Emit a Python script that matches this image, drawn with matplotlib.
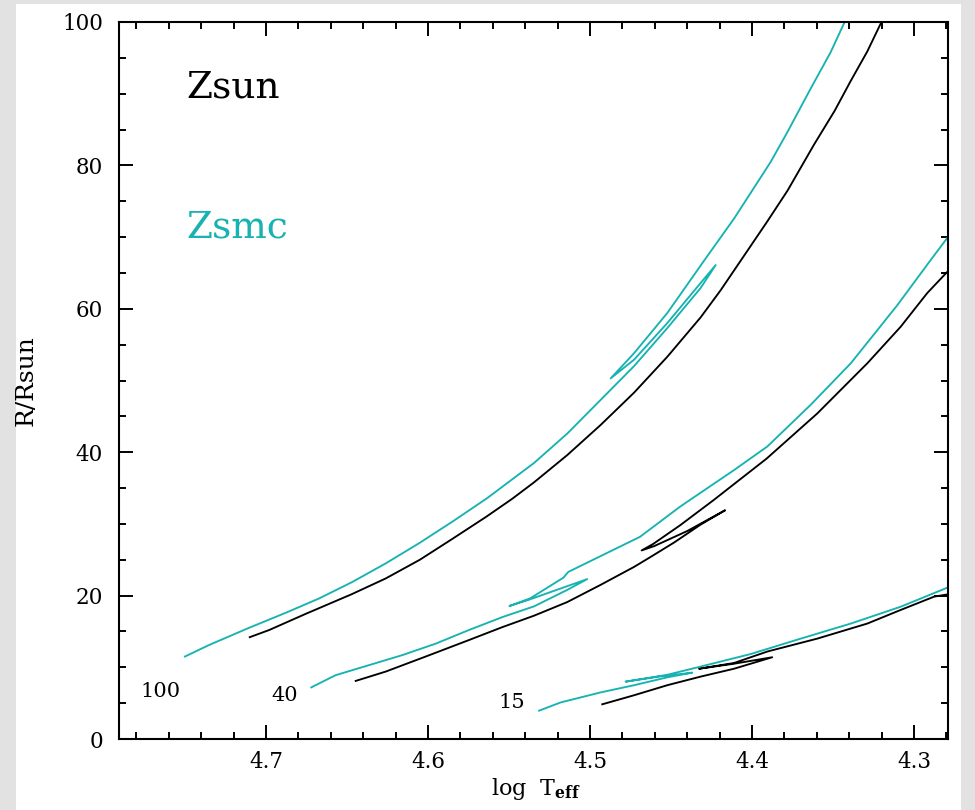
import matplotlib
matplotlib.use("Agg")
import matplotlib.pyplot as plt
from matplotlib.patches import Rectangle
from matplotlib.ticker import MultipleLocator

plt.rcParams['font.family'] = ['DejaVu Serif']
plt.rcParams['mathtext.fontset'] = 'dejavuserif'

BLACK = '#000000'
CYAN = '#17b2b2'

# ---- data: log Teff (x) and R/Rsun (y) ----
# 100 Msun, solar metallicity
t100_sun = [4.710, 4.698, 4.676, 4.647, 4.626, 4.605, 4.585, 4.564, 4.548, 4.5345,
            4.514, 4.4934, 4.4728, 4.4523, 4.4317, 4.4193, 4.407, 4.3905, 4.378,
            4.3617, 4.349, 4.339, 4.3288, 4.3205, 4.3190]
r100_sun = [14.2, 15.2, 17.4, 20.2, 22.4, 25.0, 27.9, 31.0, 33.5, 35.8,
            39.6, 43.8, 48.3, 53.3, 58.8, 62.6, 66.7, 72.2, 76.5,
            82.9, 87.6, 91.8, 95.9, 99.8, 100.6]
# 100 Msun, SMC metallicity
t100_smc = [4.750, 4.7352, 4.7105, 4.6878, 4.6672, 4.6467, 4.626, 4.6055, 4.585, 4.5634,
            4.5345, 4.514, 4.4934, 4.4728, 4.4523, 4.4317, 4.4224,
            4.4317, 4.4523, 4.4728, 4.4872,
            4.4728, 4.4523, 4.4296, 4.411, 4.3884, 4.378, 4.3638, 4.3514, 4.3428, 4.3420]
r100_smc = [11.5, 13.1, 15.5, 17.6, 19.6, 21.9, 24.5, 27.3, 30.3, 33.6,
            38.5, 42.6, 47.3, 52.0, 57.3, 62.9, 66.1,
            63.6, 58.0, 52.9, 50.3,
            53.8, 59.4, 66.7, 72.6, 80.5, 84.7, 90.7, 95.8, 100.0, 100.5]

# 40 Msun, solar metallicity
t40_sun = [4.6446, 4.6261, 4.6014, 4.5747, 4.5541, 4.5345, 4.514, 4.4934, 4.4728,
           4.4625, 4.4481, 4.4317, 4.4166,
           4.440, 4.4604, 4.4681,
           4.461, 4.4444, 4.4238, 4.391, 4.3597, 4.3288, 4.3082, 4.2918, 4.2784]
r40_sun = [8.1, 9.4, 11.5, 13.8, 15.6, 17.2, 19.1, 21.5, 24.0,
           25.4, 27.4, 29.9, 31.9,
           29.0, 26.9, 26.3,
           27.2, 29.8, 33.3, 39.1, 45.4, 52.4, 57.5, 62.2, 65.4]
# 40 Msun, SMC metallicity
t40_smc = [4.672, 4.657, 4.6364, 4.6158, 4.5952, 4.5747, 4.5541, 4.5345, 4.514, 4.5017,
           4.538, 4.5497,
           4.537, 4.5164, 4.5134, 4.4691, 4.4444, 4.4379, 4.4111, 4.3905, 4.3638,
           4.339, 4.3103, 4.2897, 4.2784]
r40_smc = [7.2, 8.9, 10.3, 11.7, 13.3, 15.2, 17.0, 18.5, 20.8, 22.3,
           19.4, 18.55,
           19.6, 22.5, 23.3, 28.2, 32.4, 33.4, 37.5, 40.8, 46.6,
           52.4, 60.5, 66.8, 70.2]

# 15 Msun, solar metallicity
t15_sun = [4.4924, 4.4728, 4.4523, 4.4317, 4.4111, 4.3875,
           4.4111, 4.4327,
           4.4111, 4.3905, 4.3597, 4.3288, 4.3082, 4.2876, 4.2784]
r15_sun = [4.84, 6.1, 7.5, 8.7, 9.8, 11.4,
           10.5, 9.8,
           10.6, 12.2, 14.0, 16.1, 18.0, 19.85, 20.2]
# 15 Msun, SMC metallicity
t15_smc = [4.5314, 4.5181, 4.4934, 4.4728, 4.4523, 4.4369,
           4.4575, 4.478,
           4.4523, 4.4317, 4.4008, 4.3699, 4.339, 4.3082, 4.2784]
r15_smc = [3.95, 5.1, 6.5, 7.5, 8.6, 9.25,
           8.7, 8.0,
           8.95, 10.1, 11.85, 14.0, 16.1, 18.45, 21.2]

mass_labels = ['100', '40', '15']
mass_label_x = [4.7648, 4.6882, 4.5484]
mass_label_y = [5.9, 5.34, 4.32]

x_ticks = [4.7, 4.6, 4.5, 4.4, 4.3]
y_ticks = [0, 20, 40, 60, 80, 100]

# ---- figure ----
fig = plt.figure(figsize=(9.75, 8.10), dpi=100)
fig.patch.set_facecolor('#e2e2e2')
bg = Rectangle((16 / 975, 0), (961 - 16) / 975, (810 - 4) / 810,
               transform=fig.transFigure, facecolor='white',
               edgecolor='none', zorder=-10)
fig.patches.append(bg)

ax = fig.add_axes([119 / 975, (810 - 739) / 810, (948 - 119) / 975, (739 - 22) / 810])
ax.set_zorder(5)
ax.set_facecolor('white')

lw = 1.35
ax.plot(t100_sun, r100_sun, color=BLACK, lw=lw)
ax.plot(t100_smc, r100_smc, color=CYAN, lw=lw)
ax.plot(t40_sun, r40_sun, color=BLACK, lw=lw)
ax.plot(t40_smc, r40_smc, color=CYAN, lw=lw)
ax.plot(t15_sun, r15_sun, color=BLACK, lw=lw)
ax.plot(t15_smc, r15_smc, color=CYAN, lw=lw)

for lab, xx, yy in zip(mass_labels, mass_label_x, mass_label_y):
    ax.text(xx, yy, lab, fontsize=15, ha='center', va='baseline', color=BLACK)

ax.text(4.7493, 89.5, 'Zsun', fontsize=27, ha='left', va='baseline', color=BLACK)
ax.text(4.7493, 69.9, 'Zsmc', fontsize=27, ha='left', va='baseline', color=CYAN)

ax.set_xlim(4.7907, 4.279)
ax.set_ylim(0, 100)
ax.set_xticks(x_ticks)
ax.set_xticklabels([f'{v:.1f}' for v in x_ticks])
ax.set_yticks(y_ticks)
ax.set_yticklabels([str(v) for v in y_ticks])
ax.xaxis.set_minor_locator(MultipleLocator(0.02))
ax.yaxis.set_minor_locator(MultipleLocator(5))

ax.tick_params(which='both', direction='in', top=True, right=True, width=1.4,
               color='black')
ax.tick_params(which='major', length=10.3, labelsize=15.5)
ax.tick_params(axis='x', which='major', pad=9)
ax.tick_params(axis='y', which='major', pad=11.5)
ax.tick_params(which='minor', length=5)
for sp in ax.spines.values():
    sp.set_linewidth(1.5)

ax.set_xlabel(r'log  T$_{\mathbf{eff}}$', fontsize=16)
ax.xaxis.set_label_coords(0.503, -0.052)
ax.xaxis.label.set_va('top')
ax.set_ylabel('R/Rsun', fontsize=18)
ax.yaxis.set_label_coords(-0.098, 0.5)

fig.savefig('out.png', dpi=100, facecolor=fig.get_facecolor())
